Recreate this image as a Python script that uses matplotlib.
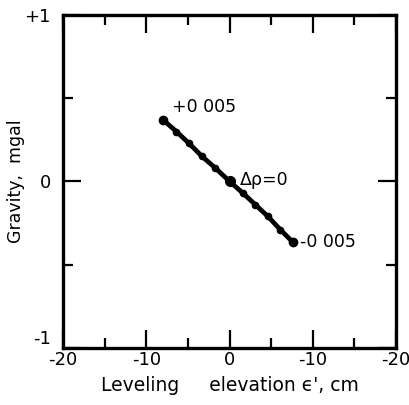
"""Gravity vs leveling elevation: line for density change from +0.005 to -0.005."""

import matplotlib

matplotlib.use("Agg")
import matplotlib.pyplot as plt

# leveling elevation, cm (plotted position) and gravity change, mgal
elev = [-8.0, -6.4, -4.9, -3.3, -1.7, 0.0, 1.6, 3.1, 4.6, 6.1, 7.6]
grav = [0.37, 0.30, 0.23, 0.15, 0.08, 0.0, -0.07, -0.14, -0.21, -0.29, -0.365]

x_ticks = [-20, -10, 0, 10, 20]
x_tick_labels = ["-20", "-10", "0", "-10", "-20"]
x_minor = [-15, -5, 5, 15]
y_ticks = [-1, 0, 1]
y_tick_labels = ["-1", "0", "+1"]
y_minor = [-0.5, 0.5]

plt.rcParams["font.family"] = ["DejaVu Sans"]

fig = plt.figure(figsize=(4.1, 4.05), dpi=100)
ax = fig.add_axes([0.154, 0.141, 0.812, 0.822])

ax.plot(elev, grav, color="black", linewidth=3.4, solid_capstyle="round")
ax.plot(elev, grav, "o", color="black", markersize=4.5)
ax.plot([elev[0], elev[-1]], [grav[0], grav[-1]], "o", color="black", markersize=6)
ax.plot([0], [0], "o", color="black", markersize=7)

ax.text(elev[0] + 1.1, grav[0] + 0.025, "+0 005", fontsize=12.5, ha="left", va="bottom")
ax.text(1.2, 0.01, "\u0394\u03c1=0", fontsize=12.5, ha="left", va="center")
ax.text(elev[-1] + 0.8, grav[-1], "-0 005", fontsize=12.5, ha="left", va="center")

ax.set_xlim(-20, 20)
ax.set_ylim(-1, 1)
ax.set_xticks(x_ticks)
ax.set_xticklabels(x_tick_labels, fontsize=13)
ax.set_xticks(x_minor, minor=True)
ax.set_yticks(y_ticks)
ax.set_yticklabels(y_tick_labels, fontsize=13)
ax.set_yticks(y_minor, minor=True)
ax.get_yticklabels()[0].set_va("bottom")

ax.tick_params(axis="both", which="major", direction="in", length=13, width=1.6,
               top=True, right=True, pad=2)
ax.tick_params(axis="both", which="minor", direction="in", length=7, width=1.6,
               top=True, right=True)
ax.tick_params(axis="y", which="major", pad=9)
for spine in ax.spines.values():
    spine.set_linewidth(2.4)

ax.set_xlabel("Leveling     elevation \u03f5', cm", fontsize=13.5, labelpad=5)
ax.set_ylabel("Gravity,  mgal", fontsize=12.5)
ax.yaxis.set_label_coords(-0.115, 0.5)

fig.savefig("out.png", dpi=100)
